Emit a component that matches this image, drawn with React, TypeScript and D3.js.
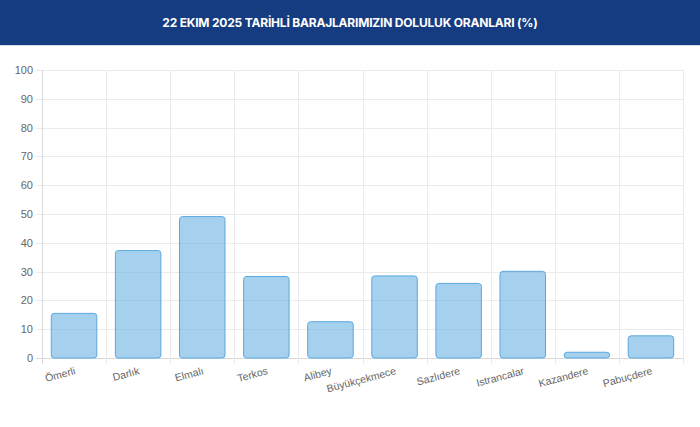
import React, { useEffect, useRef } from 'react';
import * as d3 from 'd3';

const dams: string[] = ['Ömerli', 'Darlık', 'Elmalı', 'Terkos', 'Alibey', 'Büyükçekmece', 'Sazlıdere', 'Istrancalar', 'Kazandere', 'Pabuçdere'];
const fillRates: number[] = [15.5, 37.3, 49.1, 28.3, 12.6, 28.5, 25.9, 30.1, 2.0, 7.7];
const yTicks: number[] = [0, 10, 20, 30, 40, 50, 60, 70, 80, 90, 100];
const title = '22 EKIM 2025 TARİHLİ BARAJLARIMIZIN DOLULUK ORANLARI (%)';

const App: React.FC = () => {
    const svgRef = useRef<SVGSVGElement>(null);

    useEffect(() => {
        if (!svgRef.current) return;
        document.body.style.margin = '0';
        const svg = d3.select(svgRef.current);
        svg.selectAll('*').remove();

        const width = 700;
        const left = 42, right = 683, top = 70, bottom = 358;

        // header band
        svg.append('rect')
            .attr('x', 0).attr('y', 0)
            .attr('width', width).attr('height', 45)
            .attr('fill', '#153c80');
        svg.append('line')
            .attr('x1', 0).attr('x2', width)
            .attr('y1', 45.5).attr('y2', 45.5)
            .attr('stroke', '#d6dde8');
        svg.append('text')
            .attr('x', width / 2).attr('y', 27)
            .attr('text-anchor', 'middle')
            .attr('fill', '#ffffff')
            .attr('font-family', 'Inter, "Open Sans", sans-serif')
            .attr('font-weight', 700)
            .attr('font-size', 12)
            .attr('letter-spacing', -0.2)
            .text(title);

        const x = d3.scaleBand<string>()
            .domain(dams)
            .range([left, right])
            .paddingInner(0)
            .paddingOuter(0);

        const y = d3.scaleLinear()
            .domain([0, 100])
            .range([bottom, top]);

        const g = svg.append('g');

        // horizontal grid
        g.selectAll('line.hgrid')
            .data(yTicks)
            .join('line')
            .attr('class', 'hgrid')
            .attr('x1', left - 6).attr('x2', right)
            .attr('y1', d => Math.round(y(d)) + 0.5)
            .attr('y2', d => Math.round(y(d)) + 0.5)
            .attr('stroke', d => d === 0 ? '#d9d9d9' : '#ebebeb');

        // vertical grid at category boundaries
        const bounds = dams.map(d => x(d) as number).concat([right]);
        g.selectAll('line.vgrid')
            .data(bounds)
            .join('line')
            .attr('class', 'vgrid')
            .attr('x1', d => Math.round(d) + 0.5)
            .attr('x2', d => Math.round(d) + 0.5)
            .attr('y1', top)
            .attr('y2', bottom + 6)
            .attr('stroke', (d, i) => i === 0 ? '#d9d9d9' : '#ebebeb');

        // y labels
        g.selectAll('text.ylab')
            .data(yTicks)
            .join('text')
            .attr('class', 'ylab')
            .attr('x', left - 9)
            .attr('y', d => y(d) + 4)
            .attr('text-anchor', 'end')
            .attr('fill', '#666')
            .attr('font-family', '"Liberation Sans", Arial, sans-serif')
            .attr('font-size', 11)
            .text(d => d);

        // bars
        const barW = x.bandwidth() * 0.71;
        g.selectAll('rect.bar')
            .data(fillRates)
            .join('rect')
            .attr('class', 'bar')
            .attr('x', (d, i) => (x(dams[i]) as number) + (x.bandwidth() - barW) / 2)
            .attr('y', d => y(d))
            .attr('width', barW)
            .attr('height', d => bottom - y(d))
            .attr('rx', 3)
            .attr('fill', 'rgba(100,175,225,0.58)')
            .attr('stroke', '#5ba8df')
            .attr('stroke-width', 1);

        // x labels, rotated
        g.selectAll('text.xlab')
            .data(dams)
            .join('text')
            .attr('class', 'xlab')
            .attr('text-anchor', 'end')
            .attr('fill', '#666')
            .attr('font-family', '"Liberation Sans", Arial, sans-serif')
            .attr('font-size', 10.5)
            .attr('transform', d => `translate(${(x(d) as number) + x.bandwidth() / 2 + 2},${bottom + 16}) rotate(-15)`)
            .text(d => d);
    }, []);

    return (
        <svg ref={svgRef} width={700} height={427} style={{ display: 'block', background: '#fff' }}></svg>
    );
};

export default App;
